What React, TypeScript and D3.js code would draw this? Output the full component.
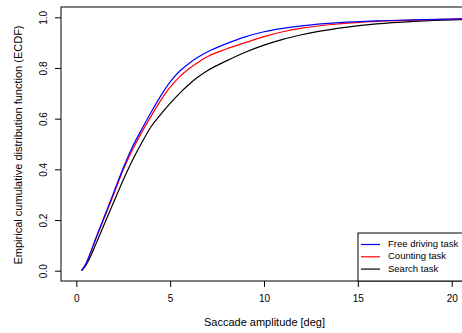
import React, { useEffect, useRef } from 'react';
import * as d3 from 'd3';

// saccade amplitude [deg] at which the ECDF was read
const freeAmp = [0.28, 0.5, 0.75, 1.0, 1.5, 2.0, 2.5, 3.0, 3.5, 4.0, 4.5, 5.0, 5.5, 6.0, 6.5, 7.0, 8.0, 9.0, 10.0, 11.0, 12.0, 14.0, 16.0, 18.0, 20.0, 20.8];
const freeEcdf = [0, 0.025, 0.07, 0.12, 0.215, 0.31, 0.405, 0.49, 0.56, 0.627, 0.69, 0.745, 0.787, 0.818, 0.843, 0.864, 0.896, 0.923, 0.943, 0.956, 0.966, 0.979, 0.986, 0.99, 0.993, 0.994];

const countAmp = [0.28, 0.5, 0.75, 1.0, 1.5, 2.0, 2.5, 3.0, 3.5, 4.0, 4.5, 5.0, 5.5, 6.0, 6.5, 7.0, 8.0, 9.0, 10.0, 11.0, 12.0, 14.0, 16.0, 18.0, 20.0, 20.8];
const countEcdf = [0, 0.025, 0.068, 0.117, 0.21, 0.303, 0.398, 0.478, 0.548, 0.612, 0.672, 0.724, 0.765, 0.797, 0.823, 0.845, 0.875, 0.9, 0.924, 0.943, 0.957, 0.974, 0.984, 0.989, 0.993, 0.994];

const searchAmp = [0.28, 0.5, 0.75, 1.0, 1.5, 2.0, 2.5, 3.0, 3.5, 4.0, 4.5, 5.0, 5.5, 6.0, 6.5, 7.0, 8.0, 9.0, 10.0, 11.0, 12.0, 14.0, 16.0, 18.0, 20.0, 20.8];
const searchEcdf = [0, 0.02, 0.055, 0.098, 0.185, 0.272, 0.358, 0.437, 0.507, 0.57, 0.617, 0.66, 0.7, 0.735, 0.765, 0.79, 0.828, 0.862, 0.89, 0.913, 0.931, 0.957, 0.974, 0.984, 0.99, 0.991];

const seriesNames = ['Free driving task', 'Counting task', 'Search task'];
const seriesColors = ['#0000ff', '#ff0000', '#000000'];

const xTicks = [0, 5, 10, 15, 20];
const yTicks = [0, 0.2, 0.4, 0.6, 0.8, 1.0];

const App = () => {
  const svgRef = useRef<SVGSVGElement>(null);

  useEffect(() => {
    const width = 462;
    const height = 333;
    const box = { left: 61, top: 7, right: 475, bottom: 281 };

    const svg = d3.select(svgRef.current).attr('width', width).attr('height', height);
    svg.selectAll('*').remove();

    const x = d3.scaleLinear().domain([0, 20]).range([76.3, 451.7]);
    const y = d3.scaleLinear().domain([0, 1]).range([270.7, 17.3]);

    const font = 'Liberation Sans, Arial, Helvetica, sans-serif';

    svg.append('defs').append('clipPath').attr('id', 'plotclip')
      .append('rect')
      .attr('x', box.left).attr('y', box.top)
      .attr('width', box.right - box.left).attr('height', box.bottom - box.top);

    // curves
    const line = d3.line<[number, number]>()
      .x((d) => x(d[0]))
      .y((d) => y(d[1]))
      .curve(d3.curveMonotoneX);

    const series = [
      d3.zip(searchAmp, searchEcdf),
      d3.zip(countAmp, countEcdf),
      d3.zip(freeAmp, freeEcdf),
    ];
    const colorsDrawOrder = [seriesColors[2], seriesColors[1], seriesColors[0]];

    const g = svg.append('g').attr('clip-path', 'url(#plotclip)');
    series.forEach((s, i) => {
      g.append('path')
        .datum(s as [number, number][])
        .attr('d', line)
        .attr('fill', 'none')
        .attr('stroke', colorsDrawOrder[i])
        .attr('stroke-width', 1.2);
    });

    // box
    svg.append('rect')
      .attr('x', box.left).attr('y', box.top)
      .attr('width', box.right - box.left).attr('height', box.bottom - box.top)
      .attr('fill', 'none').attr('stroke', '#000').attr('stroke-width', 1);

    // x axis
    const xAxis = d3.axisBottom(x).tickValues(xTicks).tickSize(6).tickPadding(8).tickFormat(d3.format('d'));
    const xg = svg.append('g').attr('transform', `translate(0, ${box.bottom})`).call(xAxis);
    xg.select('.domain').remove();
    xg.selectAll('text').attr('font-family', font).attr('font-size', 10).attr('fill', '#000');
    xg.selectAll('line').attr('stroke', '#000');

    // y axis
    const yAxis = d3.axisLeft(y).tickValues(yTicks).tickSize(6).tickFormat(d3.format('.1f'));
    const yg = svg.append('g').attr('transform', `translate(${box.left}, 0)`).call(yAxis);
    yg.select('.domain').remove();
    yg.selectAll('line').attr('stroke', '#000');
    yg.selectAll('text')
      .attr('font-family', font).attr('font-size', 10).attr('fill', '#000')
      .attr('x', null).attr('dy', null)
      .attr('text-anchor', 'middle')
      .attr('transform', 'translate(-17, 0) rotate(-90)')
      .attr('dominant-baseline', 'middle');

    // axis titles
    svg.append('text')
      .attr('x', (box.left + 462) / 2 + 3).attr('y', 326)
      .attr('text-anchor', 'middle')
      .attr('font-family', font).attr('font-size', 11)
      .text('Saccade amplitude [deg]');

    svg.append('text')
      .attr('transform', `translate(22, ${(17.3 + 270.7) / 2 + 1}) rotate(-90)`)
      .attr('text-anchor', 'middle')
      .attr('font-family', font).attr('font-size', 11)
      .text('Empirical cumulative distribution function (ECDF)');

    // legend
    const lg = svg.append('g');
    lg.append('rect')
      .attr('x', 358).attr('y', 233)
      .attr('width', 120).attr('height', box.bottom - 233)
      .attr('fill', '#fff').attr('stroke', '#000').attr('stroke-width', 1);
    seriesNames.forEach((name, i) => {
      const ly = 244.5 + i * 12.3;
      lg.append('line')
        .attr('x1', 361).attr('x2', 380).attr('y1', ly).attr('y2', ly)
        .attr('stroke', seriesColors[i]).attr('stroke-width', 1.2);
      lg.append('text')
        .attr('x', 388).attr('y', ly)
        .attr('dominant-baseline', 'middle')
        .attr('font-family', font).attr('font-size', 9.5)
        .text(name);
    });
  }, []);

  return (
    <div>
      <svg ref={svgRef} style={{ position: 'absolute', left: 0, top: 0 }}></svg>
    </div>
  );
};

export default App;
